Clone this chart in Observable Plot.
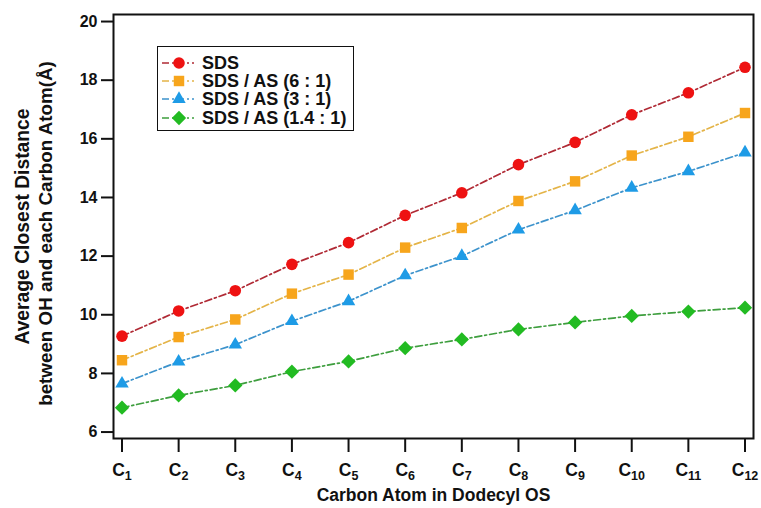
<!DOCTYPE html>
<html><head><meta charset="utf-8">
<script src="https://cdn.jsdelivr.net/npm/d3@7"></script>
<script src="https://cdn.jsdelivr.net/npm/@observablehq/plot@0.6"></script>
<style>
body{margin:0;background:#fff;}
#wrap{position:relative;width:761px;height:508px;}
#legend{position:absolute;left:157px;top:46px;width:195px;height:83px;border:1.6px solid #111;background:#fff;font:bold 18px/18px "Liberation Sans",Arial,sans-serif;color:#111;}
#legend .row{position:absolute;left:0;height:18px;display:flex;align-items:center;white-space:nowrap;}
#legend svg{display:block;margin-left:4px;margin-right:8px;}
</style></head>
<body><div id="wrap"></div>
<script>
const carbons = [1,2,3,4,5,6,7,8,9,10,11,12];
const carbonSubs = ["1","2","3","4","5","6","7","8","9","10","11","12"];
const yTicks = [6,8,10,12,14,16,18,20];
const seriesNames = ["SDS","SDS / AS (6 : 1)","SDS / AS (3 : 1)","SDS / AS (1.4 : 1)"];
const sds   = [9.27,10.13,10.82,11.72,12.46,13.39,14.16,15.12,15.88,16.82,17.57,18.44];
const as61  = [8.45,9.24,9.84,10.72,11.37,12.29,12.96,13.88,14.55,15.43,16.07,16.88];
const as31  = [7.65,8.40,8.98,9.78,10.46,11.34,12.00,12.90,13.56,14.33,14.89,15.53];
const as141 = [6.83,7.25,7.59,8.06,8.41,8.86,9.16,9.50,9.74,9.96,10.11,10.24];
const markerColors = ["#ee1212","#f7a51c","#1e9be6","#22bb22"];
const lineColors = ["#b02a35","#e4b448","#3d93cc","#3e9e3e"];
const symbolNames = ["circle","square","triangle","diamond"];
const sizes = [5.8,5.9,5.0,5.7];
const yLabel1 = "Average Closest Distance";
const yLabel2 = "between OH and each Carbon Atom(Å)";
const xLabel = "Carbon Atom in Dodecyl OS";

// square rotated 45° (equal diagonals)
const diamondSq = {draw(ctx, size){ const h = Math.sqrt(size/2); ctx.moveTo(0,-h); ctx.lineTo(h,0); ctx.lineTo(0,h); ctx.lineTo(-h,0); ctx.closePath(); }};
const symbolMap = {circle:d3.symbolCircle, square:d3.symbolSquare, triangle:d3.symbolTriangle, diamond:diamondSq};

const values = [sds, as61, as31, as141];
const rows = seriesNames.map((s,i)=>values[i].map((v,j)=>({series:s,x:carbons[j],y:v})));

const font = '"Liberation Sans", Arial, sans-serif';
const marks = [];
rows.forEach((r,i)=>{
  marks.push(Plot.line(r,{x:"x",y:"y",stroke:lineColors[i],strokeWidth:1.7,strokeDasharray:"7,3,2,3"}));
});
rows.forEach((r,i)=>{
  marks.push(Plot.dot(r,{x:"x",y:"y",symbol:symbolMap[symbolNames[i]],fill:markerColors[i],r:sizes[i]}));
});

const chart = Plot.plot({
  width:761, height:508,
  marginLeft:113, marginRight:8, marginTop:14, marginBottom:70,
  style:{fontFamily:font,fontSize:"16px",fontWeight:"bold",color:"#111",background:"#fff"},
  x:{type:"linear",domain:[0.85,12.15]},
  y:{domain:[5.78,20.24]},
  marks:[
    Plot.axisY({ticks:yTicks,tickSize:12,tickPadding:4,strokeWidth:2,label:null,fontSize:16}),
    Plot.axisX({ticks:carbons,tickSize:14,tickPadding:11,strokeWidth:2,label:null,tickFormat:()=>"C",fontSize:17.5}),
    ...marks,
    Plot.frame({stroke:"#111",strokeWidth:2}),
    Plot.text([yLabel1],{frameAnchor:"left",rotate:-90,dx:-91,textAnchor:"middle",lineAnchor:"middle",fontSize:19.3,fontWeight:"bold",text:d=>d}),
    Plot.text([yLabel2],{frameAnchor:"left",rotate:-90,dx:-68,dy:7,textAnchor:"middle",lineAnchor:"middle",fontSize:18.8,fontWeight:"bold",text:d=>d}),
    Plot.text([xLabel],{frameAnchor:"bottom",dy:57,lineAnchor:"middle",fontSize:17.5,fontWeight:"bold",text:d=>d})
  ]
});
document.getElementById("wrap").appendChild(chart);

// subscripts on x tick labels
const xt = d3.select(chart).select('g[aria-label="x-axis tick label"]').attr("font-size",17.5);
xt.selectAll('text').each(function(_,i){
  d3.select(this).append("tspan").attr("font-size",12.5).attr("dy","0.35em").text(carbonSubs[i]);
});
d3.select(chart).select('g[aria-label="y-axis tick label"]').attr("font-size",16);

// legend
const leg = d3.select("#wrap").append("div").attr("id","legend");
seriesNames.forEach((name,i)=>{
  const row = leg.append("div").attr("class","row").style("top",(7+i*18.2)+"px");
  const s = row.append("svg").attr("width",32).attr("height",18);
  s.append("line").attr("x1",0).attr("x2",32).attr("y1",9).attr("y2",9)
    .attr("stroke",lineColors[i]).attr("stroke-width",1.7).attr("stroke-dasharray","7,3,2,3");
  s.append("path").attr("transform","translate(17,9)")
    .attr("d",d3.symbol(symbolMap[symbolNames[i]], sizes[i]*sizes[i]*Math.PI)())
    .attr("fill",markerColors[i]);
  row.append("span").text(name);
});
</script></body></html>
